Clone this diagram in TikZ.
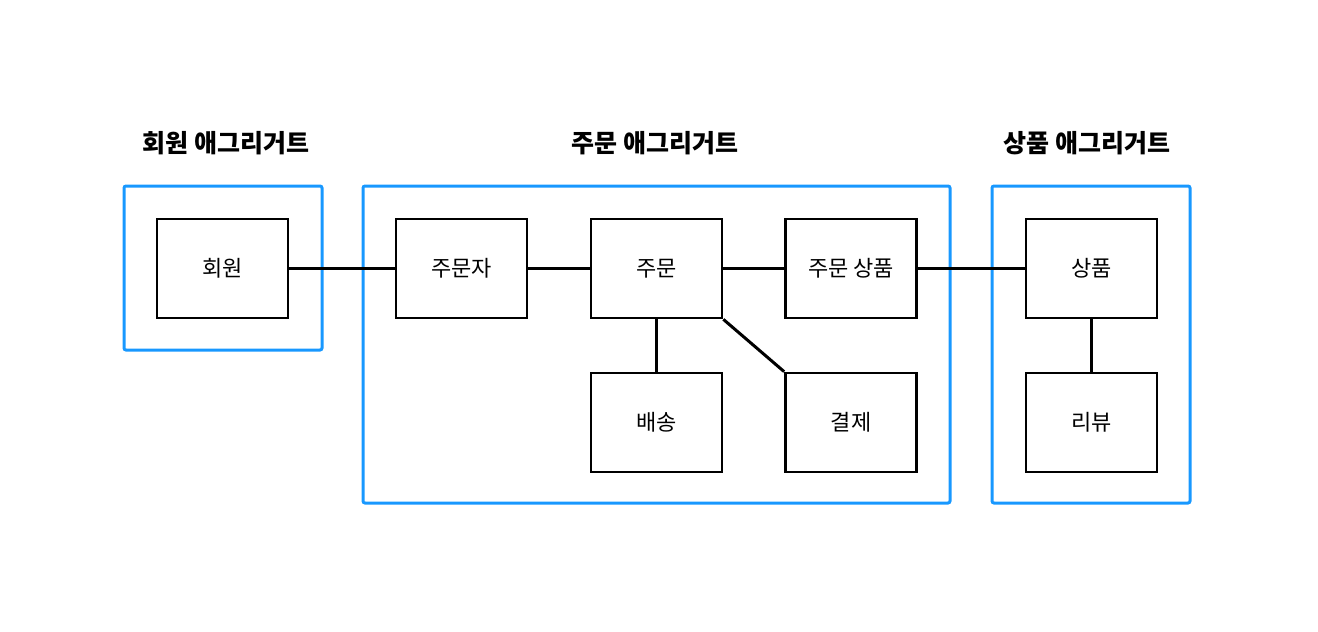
\documentclass[tikz,border=0pt]{standalone}
\usepackage{fontspec}
\newfontfamily\kr{Noto Sans CJK KR}
\definecolor{aggblue}{RGB}{24,152,255}
\begin{document}
\begin{tikzpicture}[x=1pt,y=-1pt,
  entity/.style={draw=black,line width=2.7pt,fill=white,minimum width=131pt,minimum height=99pt,inner sep=0pt,font=\kr\fontsize{22}{26}\selectfont},
  agg/.style={draw=aggblue,line width=3pt,rounded corners=2pt,inner sep=0pt},
  aggtitle/.style={font=\kr\bfseries\fontsize{25}{30}\selectfont,inner sep=0pt},
  link/.style={draw=black,line width=3pt}]
\useasboundingbox (0,0) rectangle (1318,632);
% aggregates
\node[agg,minimum width=198pt,minimum height=164pt] (aggM) at (223,268) {};
\node[agg,minimum width=587pt,minimum height=317pt] (aggO) at (656.5,344.5) {};
\node[agg,minimum width=198pt,minimum height=317pt] (aggP) at (1091,344.5) {};
\node[aggtitle] (tM) at (226,143) {회원 애그리거트};
\node[aggtitle] (tO) at (655,143) {주문 애그리거트};
\node[aggtitle] (tP) at (1087,143) {상품 애그리거트};
% entities
\node[entity] (member) at (222.5,268.5) {회원};
\node[entity] (orderer) at (461.5,268.5) {주문자};
\node[entity] (order) at (656.5,268.5) {주문};
\node[entity] (orderitem) at (851,268.5) {주문 상품};
\node[entity] (product) at (1091.5,268.5) {상품};
\node[entity] (delivery) at (656.5,422.5) {배송};
\node[entity] (payment) at (851,422.5) {결제};
\node[entity] (review) at (1091.5,422.5) {리뷰};
\draw[link] (member) -- (orderer);
\draw[link] (orderer) -- (order);
\draw[link] (order) -- (orderitem);
\draw[link] (orderitem) -- (product);
\draw[link] (order.south) -- (delivery.north);
\draw[link] (order.south east) -- (payment.north west);
\draw[link] (product.south) -- (review.north);
\end{tikzpicture}
\end{document}
